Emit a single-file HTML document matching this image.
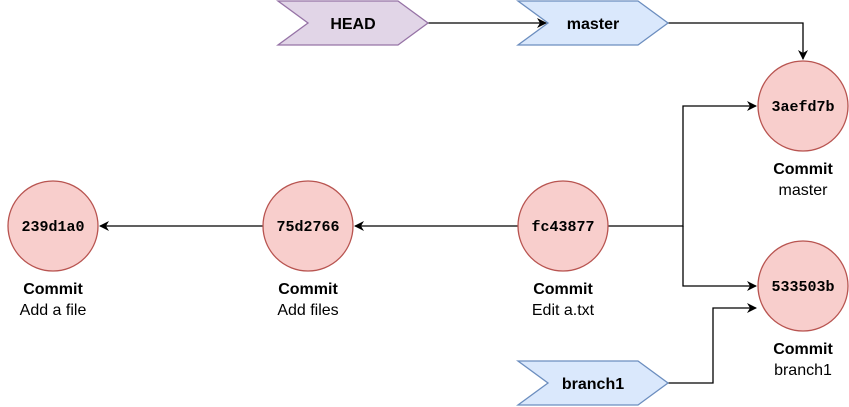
<!DOCTYPE html>
<html><head><meta charset="utf-8"><style>
body{margin:0;background:#fff}
svg{display:block}
.h{font-family:"Liberation Mono",monospace;font-weight:bold;font-size:15px}
.l{font-family:"Liberation Sans",sans-serif;font-size:16px}
</style></head><body>
<svg width="849" height="407" viewBox="0 0 849 407" xmlns="http://www.w3.org/2000/svg">
<defs><marker id="a" markerWidth="10" markerHeight="10" refX="9" refY="5" orient="auto" markerUnits="userSpaceOnUse"><path d="M0,0 L10,5 L0,10 L3,5 Z" fill="#000"/></marker></defs>
<g fill="none" stroke="#000" stroke-width="1.3">
<path d="M428,23 H546" marker-end="url(#a)"/>
<path d="M668,23 H803 V59" marker-end="url(#a)"/>
<path d="M608,226 H683 V106 H756" marker-end="url(#a)"/>
<path d="M683,226 V286 H756" marker-end="url(#a)"/>
<path d="M668,383 H713 V308 H756" marker-end="url(#a)"/>
<path d="M518,226 H355" marker-end="url(#a)"/>
<path d="M263,226 H100" marker-end="url(#a)"/>
</g>
<polygon points="278,1 398,1 428,23 398,45 278,45 308,23" fill="#e1d5e7" stroke="#9673a6" stroke-width="1.3"/>
<polygon points="518,1 638,1 668,23 638,45 518,45 548,23" fill="#dae8fc" stroke="#6c8ebf" stroke-width="1.3"/>
<polygon points="518,361 638,361 668,383 638,405 518,405 548,383" fill="#dae8fc" stroke="#6c8ebf" stroke-width="1.3"/>
<g font-family="Liberation Sans,sans-serif" font-weight="bold" font-size="16" text-anchor="middle">
<text x="353" y="29">HEAD</text><text x="593" y="29">master</text><text x="593" y="389">branch1</text>
</g>
<g fill="#f8cecc" stroke="#b85450" stroke-width="1.3">
<circle cx="53" cy="226" r="45"/><circle cx="308" cy="226" r="45"/><circle cx="563" cy="226" r="45"/>
<circle cx="803" cy="106" r="45"/><circle cx="803" cy="286" r="45"/>
</g>
<g class="h" text-anchor="middle">
<text x="53" y="231">239d1a0</text><text x="308" y="231">75d2766</text><text x="563" y="231">fc43877</text>
<text x="803" y="111">3aefd7b</text><text x="803" y="291">533503b</text>
</g>
<g class="l" text-anchor="middle">
<text x="53" y="294" font-weight="bold">Commit</text><text x="53" y="315">Add a file</text>
<text x="308" y="294" font-weight="bold">Commit</text><text x="308" y="315">Add files</text>
<text x="563" y="294" font-weight="bold">Commit</text><text x="563" y="315">Edit a.txt</text>
<text x="803" y="174" font-weight="bold">Commit</text><text x="803" y="195">master</text>
<text x="803" y="354" font-weight="bold">Commit</text><text x="803" y="375">branch1</text>
</g>
</svg>
</body></html>
